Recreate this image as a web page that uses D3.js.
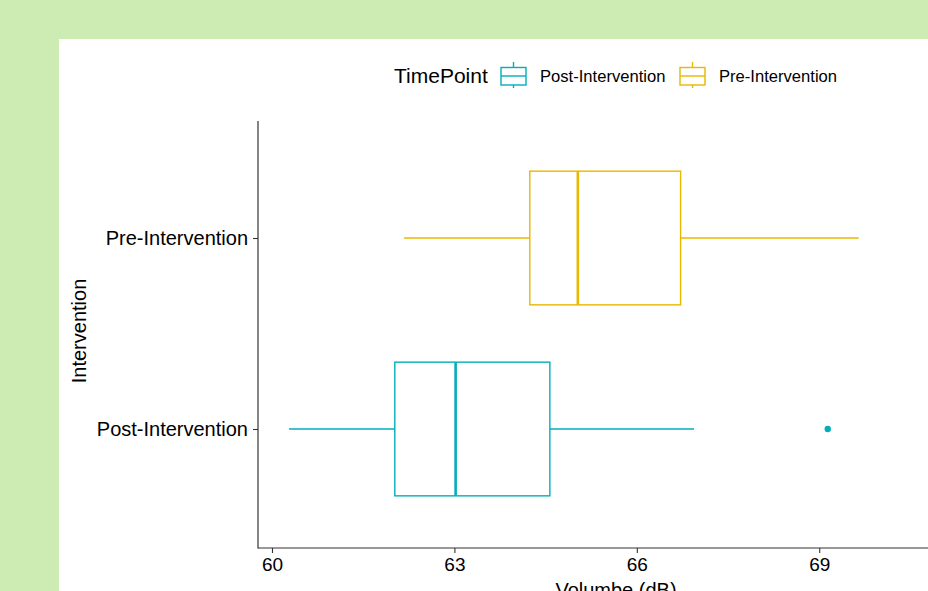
<!DOCTYPE html>
<html>
<head>
<meta charset="utf-8">
<script src="https://cdn.jsdelivr.net/npm/d3@7"></script>
<style>
  body { margin: 0; background: #cdecb3; }
  svg { display: block; font-family: "Liberation Sans", Arial, sans-serif; }
</style>
</head>
<body>
<script>
// box stats (Volumbe, dB)
const groups = ["Post-Intervention", "Pre-Intervention"];
const colors = ["#00AFBB", "#E7B800"];
const lowerWhisker = [60.28, 62.17];
const q1 = [62.02, 64.24];
const medians = [63.02, 65.03];
const q3 = [64.57, 66.72];
const upperWhisker = [66.94, 69.65];
const outliers = [[69.14], []];
const xTicks = [60, 63, 66, 69];

const width = 928, height = 591;

const svg = d3.select("body").append("svg")
  .attr("width", width)
  .attr("height", height);

// white plot card on the green page (runs off the right and bottom edges)
svg.append("rect")
  .attr("x", 59).attr("y", 39)
  .attr("width", width - 59).attr("height", height - 39)
  .attr("fill", "#fff");

// panel is wider than the window, so the scale runs past x = 928
const x = d3.scaleLinear()
  .domain([59.77, 71.2])
  .range([258, 953]);

const y = d3.scalePoint()
  .domain(groups)
  .range([543.6, 123.4])
  .padding(0.6);

const boxH = y.step() * 0.7;

// axes
const xAxis = svg.append("g")
  .attr("transform", "translate(0,548)")
  .call(d3.axisBottom(x).tickValues(xTicks).tickSize(5).tickSizeOuter(0).tickPadding(4));
xAxis.select(".domain").remove();

const yAxis = svg.append("g")
  .attr("transform", "translate(258,0)")
  .call(d3.axisLeft(y).tickSize(5).tickSizeOuter(0).tickPadding(5));
yAxis.select(".domain").remove();

[xAxis, yAxis].forEach(function(a) {
  a.selectAll(".tick line").attr("stroke", "#333").attr("stroke-width", 1.1);
  a.selectAll(".tick text").attr("fill", "#000").style("font-size", "19px");
});
xAxis.selectAll(".tick text").attr("dy", "0.75em");
yAxis.selectAll(".tick text").style("font-size", "20px");

svg.append("line")
  .attr("x1", 258).attr("x2", width).attr("y1", 548).attr("y2", 548)
  .attr("stroke", "#333").attr("stroke-width", 1.2);
svg.append("line")
  .attr("x1", 258).attr("x2", 258).attr("y1", 121).attr("y2", 548.6)
  .attr("stroke", "#333").attr("stroke-width", 1.2);

// axis titles
svg.append("text")
  .attr("x", 616).attr("y", 597)
  .attr("text-anchor", "middle")
  .style("font-size", "20px")
  .text("Volumbe (dB)");

svg.append("text")
  .attr("transform", "translate(86,331) rotate(-90)")
  .attr("text-anchor", "middle")
  .style("font-size", "20px")
  .text("Intervention");

// boxes
const box = svg.selectAll(".box")
  .data(groups)
  .enter().append("g")
  .attr("class", "box")
  .attr("stroke", function(d, i) { return colors[i]; })
  .attr("fill", "none")
  .attr("stroke-width", 1.4);

box.append("line")
  .attr("x1", function(d, i) { return x(lowerWhisker[i]); })
  .attr("x2", function(d, i) { return x(q1[i]); })
  .attr("y1", function(d) { return y(d); })
  .attr("y2", function(d) { return y(d); });

box.append("line")
  .attr("x1", function(d, i) { return x(q3[i]); })
  .attr("x2", function(d, i) { return x(upperWhisker[i]); })
  .attr("y1", function(d) { return y(d); })
  .attr("y2", function(d) { return y(d); });

box.append("rect")
  .attr("x", function(d, i) { return x(q1[i]); })
  .attr("width", function(d, i) { return x(q3[i]) - x(q1[i]); })
  .attr("y", function(d) { return y(d) - boxH / 2; })
  .attr("height", boxH)
  .attr("fill", "#fff");

box.append("line")
  .attr("x1", function(d, i) { return x(medians[i]); })
  .attr("x2", function(d, i) { return x(medians[i]); })
  .attr("y1", function(d) { return y(d) - boxH / 2; })
  .attr("y2", function(d) { return y(d) + boxH / 2; })
  .attr("stroke-width", 2.6);

box.each(function(d, i) {
  d3.select(this).selectAll("circle")
    .data(outliers[i])
    .enter().append("circle")
    .attr("cx", function(v) { return x(v); })
    .attr("cy", y(d))
    .attr("r", 3.2)
    .attr("fill", colors[i])
    .attr("stroke", "none");
});

// legend
const legend = svg.append("g");
legend.append("text")
  .attr("x", 394).attr("y", 83)
  .style("font-size", "21px")
  .text("TimePoint");

const legendX = [501, 680];
const item = legend.selectAll(".item")
  .data(groups)
  .enter().append("g")
  .attr("class", "item")
  .attr("transform", function(d, i) { return "translate(" + legendX[i] + ",0)"; });

item.append("line")
  .attr("x1", 12.5).attr("x2", 12.5).attr("y1", 62).attr("y2", 88)
  .attr("stroke", function(d, i) { return colors[i]; })
  .attr("stroke-width", 1.4);
item.append("rect")
  .attr("x", 0).attr("y", 67.5).attr("width", 25).attr("height", 17.5)
  .attr("fill", "#fff")
  .attr("stroke", function(d, i) { return colors[i]; })
  .attr("stroke-width", 1.4);
item.append("line")
  .attr("x1", 0).attr("x2", 25).attr("y1", 76).attr("y2", 76)
  .attr("stroke", function(d, i) { return colors[i]; })
  .attr("stroke-width", 1.4);
item.append("text")
  .attr("x", 39).attr("y", 82)
  .style("font-size", "16.6px")
  .text(function(d) { return d; });
</script>
</body>
</html>
